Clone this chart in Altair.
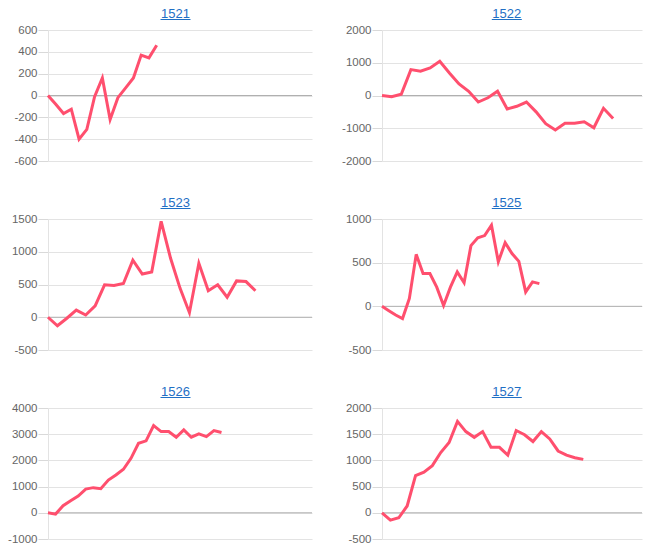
import altair as alt
import pandas as pd

# ---- data ----
names = ["1521", "1522", "1523", "1525", "1526", "1527"]

v1521 = [0, -80, -165, -125, -400, -310, -10, 160, -220, -20, 70, 160, 370, 345, 460]
v1522 = [0, -40, 40, 790, 740, 840, 1045, 690, 355, 130, -200, -70, 130, -410, -330,
         -200, -500, -860, -1055, -850, -850, -800, -985, -390, -700]
v1523 = [0, -130, -15, 110, 35, 175, 495, 485, 515, 870, 660, 690, 1465, 900, 445,
         70, 825, 405, 495, 305, 555, 545, 405]
v1525 = [0, -50, -100, -140, 90, 595, 375, 375, 220, 10, 220, 395, 270, 695, 785,
         810, 930, 510, 730, 605, 515, 165, 280, 260]
v1526 = [0, -50, 270, 460, 640, 905, 960, 920, 1250, 1445, 1660, 2080, 2655, 2745,
         3330, 3100, 3100, 2885, 3165, 2885, 3015, 2910, 3140, 3065]
v1527 = [0, -140, -95, 130, 710, 775, 900, 1150, 1340, 1745, 1550, 1440, 1550, 1250,
         1250, 1100, 1570, 1490, 1360, 1550, 1410, 1180, 1100, 1050, 1020]

series = [v1521, v1522, v1523, v1525, v1526, v1527]

# x-axis slot counts (scale domain) and y-axis ranges / tick steps
x_slots = [34, 27, 28, 38, 35, 31]
y_domains = [[-600, 600], [-2000, 2000], [-500, 1500], [-500, 1000], [-1000, 4000], [-500, 2000]]
y_steps = [200, 1000, 500, 500, 1000, 500]

# ---- styling / layout ----
LINE = "#ff4f6e"
TITLE_COLOR = "#1f6fc5"
FONT = "Liberation Sans"
# (axis extent, plot width, title shift) for left and right column
COL_LAYOUT = [(48, 264, -4.5), (46, 260, -5.2)]
PLOT_H = 131


def panel(name, values, slots, ydom, step, extent, width, dx):
    df = pd.DataFrame({"idx": list(range(len(values))), "value": values})
    yscale = alt.Scale(domain=ydom, nice=False, zero=False)
    yaxis = alt.Axis(
        values=list(range(ydom[0], ydom[1] + 1, step)),
        labelExpr="'' + datum.value",
        labelOverlap=False, labelFlush=False,
        minExtent=extent, maxExtent=extent,
        tickSize=10, labelPadding=1,
        tickColor="#d9d9d9", gridColor="#e3e3e3",
        domainColor="#e3e3e3", labelColor="#666666",
        labelFont=FONT, labelFontSize=11.5, title=None,
    )
    xenc = alt.X("idx:Q", scale=alt.Scale(domain=[0, slots], nice=False, zero=False), axis=None)
    line = alt.Chart(df).mark_line(color=LINE, strokeWidth=3).encode(
        x=xenc, y=alt.Y("value:Q", scale=yscale, axis=yaxis)
    )
    zero = alt.Chart(pd.DataFrame({"value": [0]})).mark_rule(color="#b0b0b0", strokeWidth=1).encode(
        y=alt.Y("value:Q", scale=yscale, axis=yaxis)
    )
    c = width / 2 + dx
    label = pd.DataFrame({"t": [name]})
    title = alt.Chart(label).mark_text(
        color=TITLE_COLOR, font=FONT, fontSize=13, align="center", baseline="alphabetic"
    ).encode(text="t:N", x=alt.value(c), y=alt.value(-12.3))
    underline = alt.Chart(label).mark_rule(color=TITLE_COLOR, strokeWidth=1).encode(
        x=alt.value(c - 15), x2=alt.value(c + 15), y=alt.value(-10.5)
    )
    return alt.layer(zero, line, title, underline).properties(width=width, height=PLOT_H)


panels = [panel(n, v, s, d, st, *COL_LAYOUT[k % 2]) for k, (n, v, s, d, st) in
          enumerate(zip(names, series, x_slots, y_domains, y_steps))]

chart = alt.concat(
    *panels, columns=2,
    spacing={"row": 29, "column": 23},
).properties(
    padding={"left": 0, "top": 7, "right": 0, "bottom": 0},
    background="white",
).configure_view(stroke=None)

chart.save("out.html", embed_options={"renderer": "svg", "actions": False})
